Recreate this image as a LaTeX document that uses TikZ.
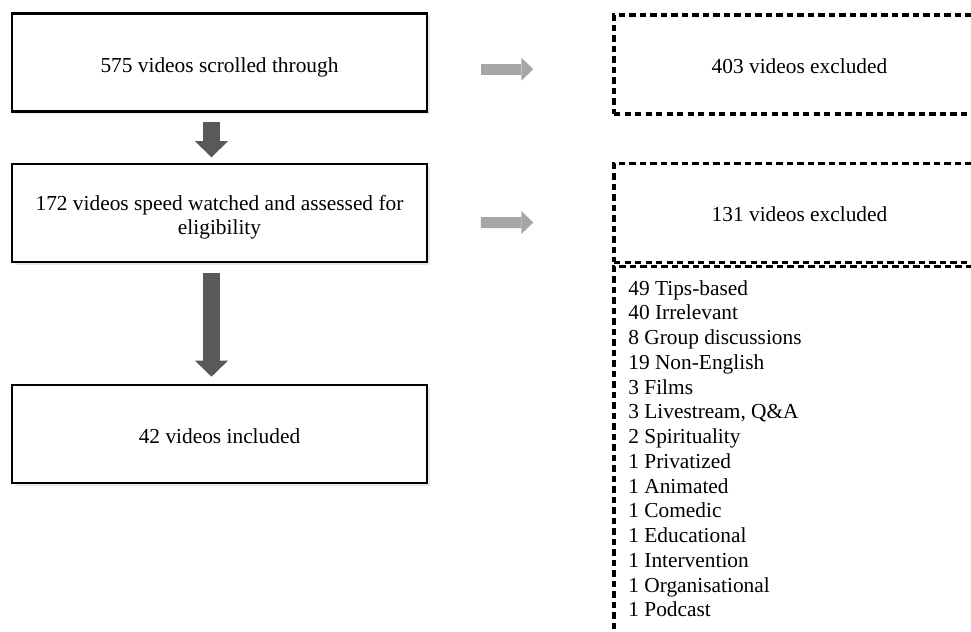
\documentclass[tikz,border=0pt]{standalone}
\usepackage{fontspec}
\setmainfont{Liberation Serif}
\usepackage{tikz}
\usetikzlibrary{arrows.meta, positioning, calc, shadows}
\definecolor{flowdark}{RGB}{89, 89, 89}
\definecolor{flowlight}{RGB}{166, 166, 166}
\newlength{\unitpx}
\setlength{\unitpx}{0.5617pt}

\begin{document}
\begin{tikzpicture}[
    x=\unitpx, y=-\unitpx,
    box/.style={rectangle, draw, line width=1.2pt, fill=white,
                minimum width=415\unitpx, minimum height=98\unitpx,
                align=center, font=\fontsize{12}{13.2}\selectfont,
                text height=11pt, text depth=0pt,
                drop shadow={shadow xshift=1.5pt, shadow yshift=-1.5pt, opacity=0.18}},
    exclbox/.style={rectangle, draw, line width=1.7pt, dash pattern=on 3.6pt off 2.3pt,
                minimum width=371\unitpx, minimum height=99\unitpx,
                align=center, font=\fontsize{12}{14}\selectfont,
                text height=10pt, text depth=0pt},
    downarrow/.style={flowdark, line width=17\unitpx,
                -{Triangle[length=9pt, width=18.5pt, line width=0pt]}},
    sidearrow/.style={flowlight, line width=11\unitpx,
                -{Triangle[length=6.7pt, width=12.9pt, line width=0pt]}},
]
\useasboundingbox (0,0) rectangle (971,632);
\clip (0,0) rectangle (971,632);

% Screening steps
\node[box] (scroll) at (219.5,62.5) {575 videos scrolled through};
\node[box, below=50.2\unitpx of scroll, text height=23.8pt] (watched)
    {172 videos speed watched and assessed for\\eligibility};
\node[box, below=121.2\unitpx of watched] (included) {42 videos included};

% Exclusions
\node[exclbox] (excl1) at (799.5,64.5) {403 videos excluded};
\node[exclbox, below=46.3\unitpx of excl1] (excl2) {131 videos excluded};
\node[exclbox, below=1.4\unitpx of excl2, minimum height=383\unitpx] (reasons) {};
\node[anchor=north west, inner sep=0pt, align=left,
      font=\fontsize{12}{13.9}\selectfont] (reasonlist) at (628,280)
    {49 Tips-based\\40 Irrelevant\\8 Group discussions\\19 Non-English\\3 Films\\
     3 Livestream, Q\&A\\2 Spirituality\\1 Privatized\\1 Animated\\1 Comedic\\
     1 Educational\\1 Intervention\\1 Organisational\\1 Podcast};

% Arrows
\draw[downarrow, shorten <=9\unitpx, shorten >=5.5\unitpx]
    ($(scroll.south)+(-8,0)$) -- ($(watched.north)+(-8,0)$);
\draw[downarrow, shorten <=10\unitpx, shorten >=7.4\unitpx]
    ($(watched.south)+(-8,0)$) -- ($(included.north)+(-8,0)$);
\draw[sidearrow, shorten <=52.7\unitpx, shorten >=79.2\unitpx]
    ($(scroll.east)+(0,6.7)$) -- ($(excl1.west)+(0,4.7)$);
\draw[sidearrow, shorten <=52.7\unitpx, shorten >=79.2\unitpx]
    ($(watched.east)+(0,9.7)$) -- ($(excl2.west)+(0,9.7)$);

\end{tikzpicture}
\end{document}
